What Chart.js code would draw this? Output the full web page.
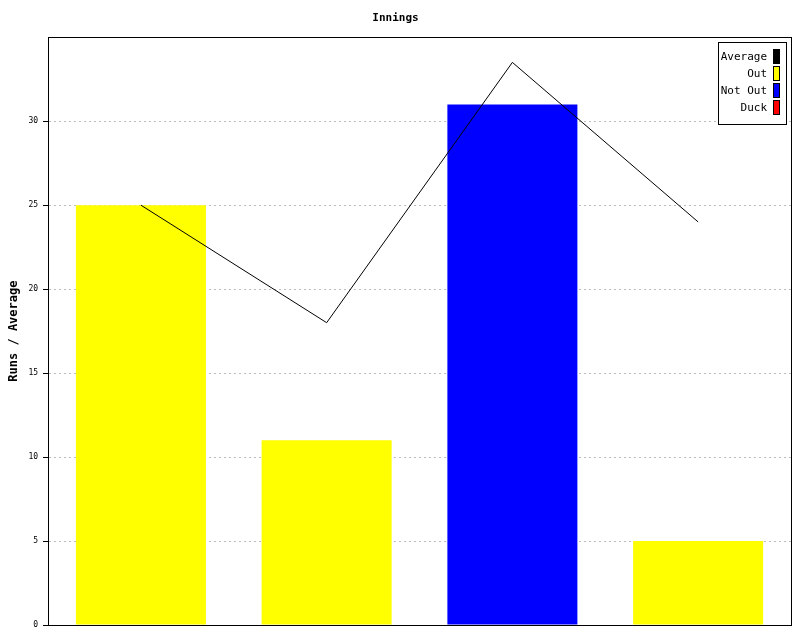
<!DOCTYPE html>
<html>
<head>
<meta charset="utf-8">
<script src="https://cdn.jsdelivr.net/npm/chart.js@4.4.1/dist/chart.umd.min.js"></script>
<style>
html,body{margin:0;padding:0;background:#fff;}
canvas{display:block;}
</style>
</head>
<body>
<canvas id="c" width="800" height="640"></canvas>
<script>
const categories = ["1", "2", "3", "4"];
const runs = [25, 11, 31, 5];
const average = [25, 18, 33.5, 24];
const barColors = ["#ffff00", "#ffff00", "#0000ff", "#ffff00"];
const yTicks = [0, 5, 10, 15, 20, 25, 30];
const legendLabels = ["Average", "Out", "Not Out", "Duck"];
const legendColors = ["#000000", "#ffff00", "#0000ff", "#ff0000"];

const FONT = "'DejaVu Sans Mono', monospace";

const framePlugin = {
  id: 'frame',
  afterDraw(chart) {
    const ctx = chart.ctx, a = chart.chartArea;
    const ys = chart.scales.y;
    ctx.save();
    ctx.setLineDash([]);
    ctx.strokeStyle = '#000';
    ctx.lineWidth = 1;
    ctx.strokeRect(Math.round(a.left) + 0.5, Math.round(a.top) + 0.5,
                   Math.round(a.right - a.left), Math.round(a.bottom - a.top));
    // y tick marks
    ctx.beginPath();
    ys.ticks.forEach(t => {
      const y = Math.round(ys.getPixelForValue(t.value)) + 0.5;
      ctx.moveTo(Math.round(a.left) - 5, y);
      ctx.lineTo(Math.round(a.left), y);
    });
    ctx.stroke();
    // legend
    const bx = 718, by = 42, bw = 68, bh = 82;
    ctx.fillStyle = '#fff';
    ctx.fillRect(bx, by, bw, bh);
    ctx.strokeRect(bx + 0.5, by + 0.5, bw, bh);
    ctx.font = "11px " + FONT;
    ctx.textAlign = 'right';
    ctx.textBaseline = 'middle';
    for (let i = 0; i < legendLabels.length; i++) {
      const cy = 57 + i * 17;
      ctx.fillStyle = '#000';
      ctx.fillText(legendLabels[i], 767, cy);
      ctx.fillStyle = legendColors[i];
      ctx.fillRect(773, cy - 8, 7, 15);
      ctx.strokeStyle = '#000';
      ctx.strokeRect(773.5, cy - 7.5, 6, 14);
    }
    ctx.restore();
  }
};

new Chart(document.getElementById('c'), {
  type: 'bar',
  data: {
    labels: categories,
    datasets: [
      {
        type: 'line',
        label: 'Average',
        data: average,
        borderColor: '#000',
        borderWidth: 1,
        pointRadius: 0,
        tension: 0,
        fill: false,
        order: 0
      },
      {
        type: 'bar',
        label: 'Runs',
        data: runs,
        backgroundColor: barColors,
        borderWidth: 0,
        barPercentage: 0.7,
        categoryPercentage: 1.0,
        order: 1
      }
    ]
  },
  options: {
    responsive: false,
    devicePixelRatio: 1,
    animation: false,
    layout: { padding: { top: 0, right: 9, bottom: 7, left: 0 } },
    plugins: {
      legend: { display: false },
      tooltip: { enabled: false },
      title: {
        display: true,
        text: 'Innings',
        color: '#000',
        font: { family: FONT, size: 11, weight: 'bold' },
        padding: { top: 12, bottom: 12 }
      }
    },
    scales: {
      x: {
        display: true,
        grid: { display: false },
        ticks: { display: false },
        border: { display: true, color: '#000' }
      },
      y: {
        min: 0,
        max: 35,
        z: 1,
        afterBuildTicks(scale) {
          scale.ticks = yTicks.map(v => ({ value: v }));
        },
        ticks: {
          color: '#000',
          font: { family: FONT, size: 8 },
          padding: 5
        },
        grid: {
          color: '#bbbbbb',
          tickColor: '#000',
          tickLength: 5,
          drawOnChartArea: true
        },
        border: { display: true, color: '#000', dash: [2, 3] },
        title: {
          display: true,
          text: 'Runs / Average',
          color: '#000',
          font: { family: FONT, size: 12, weight: 'bold' },
          padding: { top: 7, bottom: 2 }
        }
      }
    }
  },
  plugins: [framePlugin]
});
</script>
</body>
</html>
